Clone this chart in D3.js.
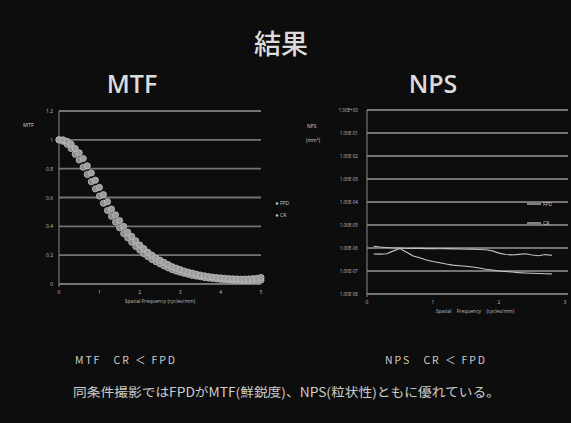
<!DOCTYPE html>
<html><head><meta charset="utf-8">
<script src="https://cdn.jsdelivr.net/npm/d3@7"></script>
<style>html,body{margin:0;padding:0;background:#0d0d0d;}svg{display:block;}</style>
</head><body>
<svg id="c" width="571" height="423"></svg>
<script>
// ---- data ----
const mtfFreq = [0,0.1,0.2,0.3,0.4,0.5,0.6,0.7,0.8,0.9,1.0,1.1,1.2,1.3,1.4,1.5,1.6,1.7,1.8,1.9,2.0,2.1,2.2,2.3,2.4,2.5,2.6,2.7,2.8,2.9,3.0,3.1,3.2,3.3,3.4,3.5,3.6,3.7,3.8,3.9,4.0,4.1,4.2,4.3,4.4,4.5,4.6,4.7,4.8,4.9,5.0];
const mtfFPD = [1.00,1.00,0.99,0.97,0.94,0.91,0.87,0.82,0.77,0.72,0.67,0.62,0.57,0.52,0.48,0.44,0.40,0.36,0.33,0.30,0.27,0.245,0.22,0.20,0.18,0.165,0.15,0.135,0.12,0.11,0.10,0.09,0.082,0.075,0.068,0.062,0.057,0.052,0.048,0.045,0.042,0.040,0.038,0.036,0.035,0.034,0.034,0.035,0.037,0.040,0.045];
const mtfCR = [1.00,0.99,0.97,0.94,0.90,0.86,0.81,0.76,0.71,0.66,0.61,0.56,0.51,0.47,0.43,0.39,0.35,0.32,0.29,0.26,0.235,0.21,0.19,0.17,0.155,0.14,0.125,0.112,0.10,0.09,0.082,0.074,0.067,0.06,0.055,0.05,0.045,0.041,0.038,0.035,0.032,0.030,0.028,0.026,0.025,0.024,0.023,0.023,0.024,0.025,0.027];
const mtfYTicks = [0,0.2,0.4,0.6,0.8,1,1.2];
const mtfXTicks = [0,1,2,3,4,5];

const npsFreq = [0.1,0.2,0.3,0.4,0.5,0.6,0.7,0.8,0.9,1.0,1.1,1.2,1.3,1.4,1.5,1.6,1.7,1.8,1.9,2.0,2.1,2.2,2.3,2.4,2.5,2.6,2.7,2.8];
const npsCR = [1.2e-6,1.1e-6,1.05e-6,1.0e-6,1.0e-6,9.5e-7,9.8e-7,9.6e-7,9.4e-7,9.5e-7,9.3e-7,9.4e-7,9.2e-7,9.0e-7,8.8e-7,8.9e-7,8.6e-7,8.4e-7,7.5e-7,6.0e-7,5.2e-7,5.0e-7,5.3e-7,5.6e-7,5.0e-7,4.6e-7,5.2e-7,4.8e-7];
const npsFPD = [5.5e-7,5.4e-7,5.6e-7,7.5e-7,9.5e-7,6.5e-7,4.5e-7,3.8e-7,3.0e-7,2.6e-7,2.3e-7,2.0e-7,1.8e-7,1.7e-7,1.6e-7,1.5e-7,1.35e-7,1.2e-7,1.1e-7,1.0e-7,9.5e-8,9.0e-8,8.5e-8,8.2e-8,8.0e-8,7.8e-8,7.6e-8,7.5e-8];
const npsYTicks = [1e0,1e-1,1e-2,1e-3,1e-4,1e-5,1e-6,1e-7,1e-8];
const npsYTickLabels = ["1.00E+00","1.00E-01","1.00E-02","1.00E-03","1.00E-04","1.00E-05","1.00E-06","1.00E-07","1.00E-08"];
const npsXTicks = [0,1,2,3];

const texts = {
  title: "結果",
  mtf: "MTF", nps: "NPS",
  xTitle: "Spatial Frequency (cycles/mm)",
  mtfNote: "MTF　CR ＜ FPD",
  npsNote: "NPS　CR ＜ FPD",
  summary: "同条件撮影ではFPDがMTF(鮮鋭度)、NPS(粒状性)ともに優れている。"
};

const svg = d3.select("#c");
svg.append("rect").attr("width",571).attr("height",423).attr("fill","#0d0d0d");
const jp = "'Noto Sans CJK JP','Noto Sans',sans-serif";
const sans = "'Open Sans','Noto Sans',sans-serif";

svg.append("text").attr("x",281).attr("y",54).attr("text-anchor","middle")
  .attr("font-family",jp).attr("font-size",27).attr("font-weight","500").attr("fill","#dcdcdc").text(texts.title);
svg.append("text").attr("x",132).attr("y",93).attr("text-anchor","middle")
  .attr("font-family",sans).attr("font-size",25).attr("font-weight","600").attr("fill","#dcdcdc").text(texts.mtf);
svg.append("text").attr("x",433).attr("y",93).attr("text-anchor","middle")
  .attr("font-family",sans).attr("font-size",25).attr("font-weight","600").attr("fill","#dcdcdc").text(texts.nps);

// ---- MTF chart ----
const mx = d3.scaleLinear().domain([0,5]).range([59,261]);
const my = d3.scaleLinear().domain([0,1.2]).range([284,111]);
const gm = svg.append("g");
gm.selectAll(".g").data(mtfYTicks).join("line")
  .attr("x1",mx(0)).attr("x2",mx(5)).attr("y1",d=>my(d)).attr("y2",d=>my(d))
  .attr("stroke","#747474").attr("stroke-width",1.8);
gm.append("line").attr("x1",mx(0)).attr("x2",mx(0)).attr("y1",my(1.2)).attr("y2",my(0)+3)
  .attr("stroke","#8a8a8a").attr("stroke-width",1);
gm.selectAll(".yl").data(mtfYTicks).join("text")
  .attr("x",53).attr("y",d=>my(d)+2).attr("text-anchor","end")
  .attr("font-family",sans).attr("font-size",5).attr("fill","#bdbdbd").text(d=>d);
gm.selectAll(".xl").data(mtfXTicks).join("text")
  .attr("x",d=>mx(d)).attr("y",294).attr("text-anchor","middle")
  .attr("font-family",sans).attr("font-size",5).attr("fill","#bdbdbd").text(d=>d);
gm.append("text").attr("x",160).attr("y",303).attr("text-anchor","middle")
  .attr("font-family",sans).attr("font-size",5).attr("fill","#bdbdbd").text(texts.xTitle);
gm.append("text").attr("x",23).attr("y",127)
  .attr("font-family",sans).attr("font-size",5.5).attr("fill","#cfcfcf").text("MTF");
[[mtfCR,"#8c8c8c"],[mtfFPD,"#9c9c9c"]].forEach(([vals,col])=>{
  gm.append("g").selectAll("circle").data(vals).join("circle")
    .attr("cx",(d,i)=>mx(mtfFreq[i])).attr("cy",d=>my(d)).attr("r",3.1)
    .attr("fill",col).attr("stroke","#c0c0c0").attr("stroke-width",0.8);
});
// legend
[["FPD",205],["CR",217]].forEach(([t,y])=>{
  gm.append("circle").attr("cx",277).attr("cy",y-1.5).attr("r",1.3).attr("fill","#bbb");
  gm.append("text").attr("x",280).attr("y",y).attr("font-family",sans).attr("font-size",5)
    .attr("fill","#c8c8c8").text(t);
});

// ---- NPS chart ----
const nx = d3.scaleLinear().domain([0,3]).range([367,565]);
const ny = d3.scaleLog().domain([1e-8,1]).range([294,110]);
const gn = svg.append("g");
gn.selectAll(".g").data(npsYTicks).join("line")
  .attr("x1",nx(0)).attr("x2",568).attr("y1",d=>ny(d)).attr("y2",d=>ny(d))
  .attr("stroke","#747474").attr("stroke-width",1.8);
gn.append("line").attr("x1",nx(0)).attr("x2",nx(0)).attr("y1",ny(1)).attr("y2",ny(1e-8)+3)
  .attr("stroke","#8a8a8a").attr("stroke-width",1);
gn.selectAll(".yl").data(npsYTicks).join("text")
  .attr("x",358).attr("y",d=>ny(d)+1.8).attr("text-anchor","end")
  .attr("font-family",sans).attr("font-size",4.6).attr("fill","#bdbdbd").text((d,i)=>npsYTickLabels[i]);
gn.selectAll(".xl").data(npsXTicks).join("text")
  .attr("x",d=>nx(d)).attr("y",304).attr("text-anchor","middle")
  .attr("font-family",sans).attr("font-size",5).attr("fill","#bdbdbd").text(d=>d);
gn.append("text").attr("x",475).attr("y",313).attr("text-anchor","middle")
  .attr("font-family",sans).attr("font-size",5).attr("fill","#bdbdbd").attr("word-spacing",4).text(texts.xTitle);
gn.append("text").attr("x",307).attr("y",128)
  .attr("font-family",sans).attr("font-size",5).attr("fill","#cfcfcf").text("NPS");
gn.append("text").attr("x",306).attr("y",142)
  .attr("font-family",sans).attr("font-size",5).attr("fill","#cfcfcf").text("(mm²)");
const line = d3.line().x((d,i)=>nx(npsFreq[i])).y(d=>ny(d));
[[npsCR,"#c0c0c0"],[npsFPD,"#c8c8c8"]].forEach(([vals,col])=>{
  gn.append("path").datum(vals).attr("d",line).attr("fill","none")
    .attr("stroke",col).attr("stroke-width",1.1);
});
[["FPD",204],["CR",223]].forEach(([t,y])=>{
  gn.append("line").attr("x1",527).attr("x2",541).attr("y1",y).attr("y2",y).attr("stroke","#cfcfcf").attr("stroke-width",1.2);
  gn.append("text").attr("x",543).attr("y",y+1.8).attr("font-family",sans).attr("font-size",5)
    .attr("fill","#cfcfcf").text(t);
});

// ---- notes ----
svg.append("text").attr("x",75).attr("y",364).attr("font-family",jp).attr("font-size",10.5)
  .attr("fill","#cccccc").attr("textLength",100).attr("lengthAdjust","spacing").text(texts.mtfNote);
svg.append("text").attr("x",385).attr("y",364).attr("font-family",jp).attr("font-size",10.5)
  .attr("fill","#cccccc").attr("textLength",100).attr("lengthAdjust","spacing").text(texts.npsNote);
svg.append("text").attr("x",73).attr("y",397).attr("font-family",jp).attr("font-size",12.5)
  .attr("fill","#cccccc").attr("textLength",427).attr("lengthAdjust","spacingAndGlyphs").text(texts.summary);
</script>
</body></html>
